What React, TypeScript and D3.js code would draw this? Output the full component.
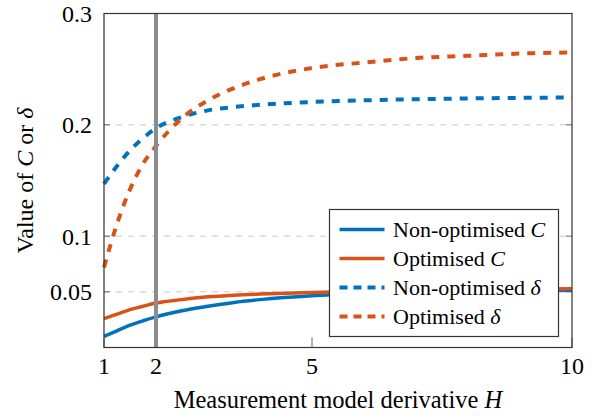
import React from "react";
import * as d3 from "d3";

// H values sampled along the x axis
const H = [1, 1.25, 1.5, 1.75, 2, 2.5, 3, 3.5, 4, 5, 6, 7, 8, 9, 10];

// values
const nonOptC = [0.010, 0.015, 0.020, 0.024, 0.0275, 0.033, 0.037, 0.0405, 0.043, 0.0465, 0.0485, 0.0498, 0.0505, 0.051, 0.0515];
const optC = [0.026, 0.030, 0.034, 0.037, 0.040, 0.043, 0.0455, 0.047, 0.048, 0.0495, 0.0505, 0.051, 0.0518, 0.0523, 0.0527];
const nonOptDelta = [0.147, 0.163, 0.177, 0.188, 0.197, 0.207, 0.213, 0.216, 0.218, 0.2205, 0.222, 0.223, 0.2237, 0.2242, 0.2246];
const optDelta = [0.072, 0.111, 0.142, 0.165, 0.181, 0.206, 0.222, 0.233, 0.241, 0.251, 0.256, 0.260, 0.262, 0.264, 0.265];

const xTicks = [1, 2, 5, 10];
const yTicks = [0.05, 0.1, 0.2, 0.3];
const gridY = [0.05, 0.1, 0.2];
const markerH = 2;

const BLUE = "#0072BD";
const ORANGE = "#D95319";
const FONT = "Liberation Serif";

const series = [
  { name: "Non-optimised ", sym: "C", data: nonOptC, color: BLUE, dash: null },
  { name: "Optimised ", sym: "C", data: optC, color: ORANGE, dash: null },
  { name: "Non-optimised ", sym: "δ", data: nonOptDelta, color: BLUE, dash: "8 8" },
  { name: "Optimised ", sym: "δ", data: optDelta, color: ORANGE, dash: "8 8" },
];

export default function App() {
  const W = 600, HGT = 416;
  const m = { left: 104, right: 28, top: 13.5, bottom: 68.5 };

  const x = d3.scaleLinear().domain([1, 10]).range([m.left, W - m.right]);
  const y = d3.scaleLinear().domain([0, 0.3]).range([HGT - m.bottom, m.top]);

  const line = d3
    .line<number>()
    .x((_, i) => x(H[i]))
    .y((d) => y(d))
    .curve(d3.curveMonotoneX);

  const x0 = x.range()[0], x1 = x.range()[1];
  const yb = y.range()[0], yt = y.range()[1];

  // legend box
  const lg = { x: 329.5, y: 209.5, w: 229, h: 127 };
  const rowY = [229.5, 258.5, 287.5, 316.5];

  return (
    <svg width={W} height={HGT} style={{ display: "block", position: "absolute", left: 0, top: 0 }}>
      <rect width={W} height={HGT} fill="white" />
      {/* grid */}
      {gridY.map((t) => (
        <line key={t} x1={x0} x2={x1} y1={y(t)} y2={y(t)} stroke="#c8c8c8" strokeWidth={1} strokeDasharray="6 6" />
      ))}
      {/* y ticks inside, both sides */}
      {yTicks.map((t) => (
        <g key={t}>
          <line x1={x0} x2={x0 + 6} y1={y(t)} y2={y(t)} stroke="#666" strokeWidth={1} />
          <line x1={x1 - 6} x2={x1} y1={y(t)} y2={y(t)} stroke="#666" strokeWidth={1} />
          <text x={92} y={y(t)} dy="0.35em" textAnchor="end" fontSize={24} fontFamily={FONT}>
            {t === 0.05 ? "0.05" : d3.format(".1f")(t)}
          </text>
        </g>
      ))}
      {xTicks.map((t) => (
        <g key={t}>
          <line x1={x(t)} x2={x(t)} y1={yb} y2={yb - 10} stroke="#666" strokeWidth={1} />
          <text x={x(t)} y={374} textAnchor="middle" fontSize={24} fontFamily={FONT}>{t}</text>
        </g>
      ))}
      {/* curves */}
      {series.map((s, i) => (
        <path key={i} d={line(s.data) || ""} fill="none" stroke={s.color} strokeWidth={s.dash ? 4 : 3.5}
          strokeDasharray={s.dash || undefined} />
      ))}
      {/* vertical marker */}
      <line x1={x(markerH)} x2={x(markerH)} y1={yt} y2={yb} stroke="#8c8c8c" strokeWidth={4} />
      {/* frame */}
      <rect x={x0} y={yt} width={x1 - x0} height={yb - yt} fill="none" stroke="#333" strokeWidth={1.2} />
      {/* legend */}
      <rect x={lg.x} y={lg.y} width={lg.w} height={lg.h} fill="white" stroke="#333" strokeWidth={1.2} />
      {series.map((s, i) => (
        <g key={i}>
          <line x1={339.5} x2={384.5} y1={rowY[i]} y2={rowY[i]} stroke={s.color} strokeWidth={s.dash ? 4 : 3.5}
            strokeDasharray={s.dash ? "8 6" : undefined} />
          <text x={393} y={rowY[i]} dy="0.33em" fontSize={22} fontFamily={FONT}>
            {s.name}
            <tspan fontStyle="italic">{s.sym}</tspan>
          </text>
        </g>
      ))}
      {/* axis labels */}
      <text x={(x0 + x1) / 2} y={408} textAnchor="middle" fontSize={24.5} fontFamily={FONT}>
        Measurement model derivative <tspan fontStyle="italic">H</tspan>
      </text>
      <text transform={`translate(33, ${(yt + yb) / 2}) rotate(-90)`} textAnchor="middle" fontSize={24} fontFamily={FONT}>
        Value of <tspan fontStyle="italic">C</tspan> or <tspan fontStyle="italic">δ</tspan>
      </text>
    </svg>
  );
}
